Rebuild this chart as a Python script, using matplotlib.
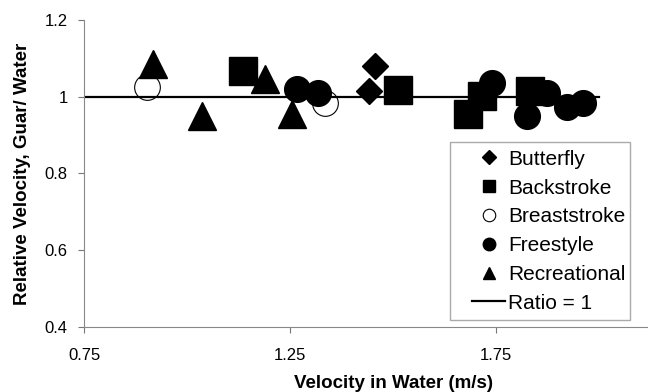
import matplotlib
matplotlib.use("Agg")
import matplotlib.pyplot as plt
from matplotlib.lines import Line2D
from matplotlib.patches import Rectangle

plt.rcParams['font.family'] = ['Liberation Sans', 'DejaVu Sans']

# velocity in water (m/s) and relative velocity guar/water
butterfly_x = [1.456, 1.442]
butterfly_y = [1.081, 1.016]
backstroke_x = [1.136, 1.512, 1.680, 1.716, 1.832]
backstroke_y = [1.068, 1.018, 0.956, 1.003, 1.016]
breaststroke_x = [0.903, 1.335]
breaststroke_y = [1.026, 0.984]
freestyle_x = [1.267, 1.316, 1.740, 1.874, 1.825, 1.922, 1.961]
freestyle_y = [1.021, 1.010, 1.036, 1.010, 0.951, 0.974, 0.984]
recreational_x = [0.917, 1.036, 1.189, 1.255]
recreational_y = [1.086, 0.951, 1.047, 0.956]
ratio_x = [0.75, 2.0]
ratio_y = [1.0, 1.0]

x_ticks = [0.75, 1.25, 1.75]
y_ticks = [0.4, 0.6, 0.8, 1.0, 1.2]
y_tick_labels = ["0.4", "0.6", "0.8", "1", "1.2"]

fig = plt.figure(figsize=(6.48, 3.92), dpi=100)
# plot area runs past the right edge of the picture (cropped original)
ax = fig.add_axes([0.130, 0.166, 0.954, 0.783])

ax.plot(ratio_x, ratio_y, color='black', lw=1.6, zorder=2)
ax.plot(butterfly_x, butterfly_y, 'D', color='black', ms=13.5, zorder=3)
ax.plot(backstroke_x, backstroke_y, 's', color='black', ms=20, zorder=3)
ax.plot(breaststroke_x, breaststroke_y, 'o', mfc='none', mec='black', mew=0.8, ms=18.5, zorder=4)
ax.plot(freestyle_x, freestyle_y, 'o', color='black', ms=18.5, zorder=3)
ax.plot(recreational_x, recreational_y, '^', color='black', ms=19.5, zorder=3)

ax.set_xlim(0.75, 2.25)
ax.set_ylim(0.4, 1.2)
ax.set_xticks(x_ticks)
ax.set_xticklabels([f"{v:.2f}" for v in x_ticks])
ax.set_yticks(y_ticks)
ax.set_yticklabels(y_tick_labels)
ax.tick_params(axis='both', labelsize=12, length=4, width=0.8, color='#777777', pad=8)
ax.tick_params(axis='x', pad=11)

for side in ['top', 'right']:
    ax.spines[side].set_visible(False)
for side in ['left', 'bottom']:
    ax.spines[side].set_color('#888888')
    ax.spines[side].set_linewidth(0.8)

ax.set_xlabel("Velocity in Water (m/s)", fontsize=13.5, fontweight='bold', labelpad=9)
ax.set_ylabel("Relative Velocity, Guar/ Water", fontsize=13.5, fontweight='bold', labelpad=10)

# legend with its own light frame
fig.patches.append(Rectangle((0.694, 0.184), 0.278, 0.454, transform=fig.transFigure,
                             fill=False, edgecolor='#aaaaaa', lw=1, zorder=5))
handles = [
    Line2D([], [], marker='D', color='black', ls='none', ms=7),
    Line2D([], [], marker='s', color='black', ls='none', ms=8.5),
    Line2D([], [], marker='o', mfc='none', mec='black', mew=0.8, ls='none', ms=9),
    Line2D([], [], marker='o', color='black', ls='none', ms=9),
    Line2D([], [], marker='^', color='black', ls='none', ms=9),
    Line2D([], [], color='black', lw=1.6),
]
labels = ["Butterfly", "Backstroke", "Breaststroke", "Freestyle", "Recreational", "Ratio = 1"]
fig.legend(handles, labels, loc='upper left', bbox_to_anchor=(0.729, 0.618),
           frameon=False, fontsize=15, borderpad=0, borderaxespad=0, labelspacing=0.47,
           handlelength=1.55, handletextpad=0.15)

fig.savefig("out.png", dpi=100)
